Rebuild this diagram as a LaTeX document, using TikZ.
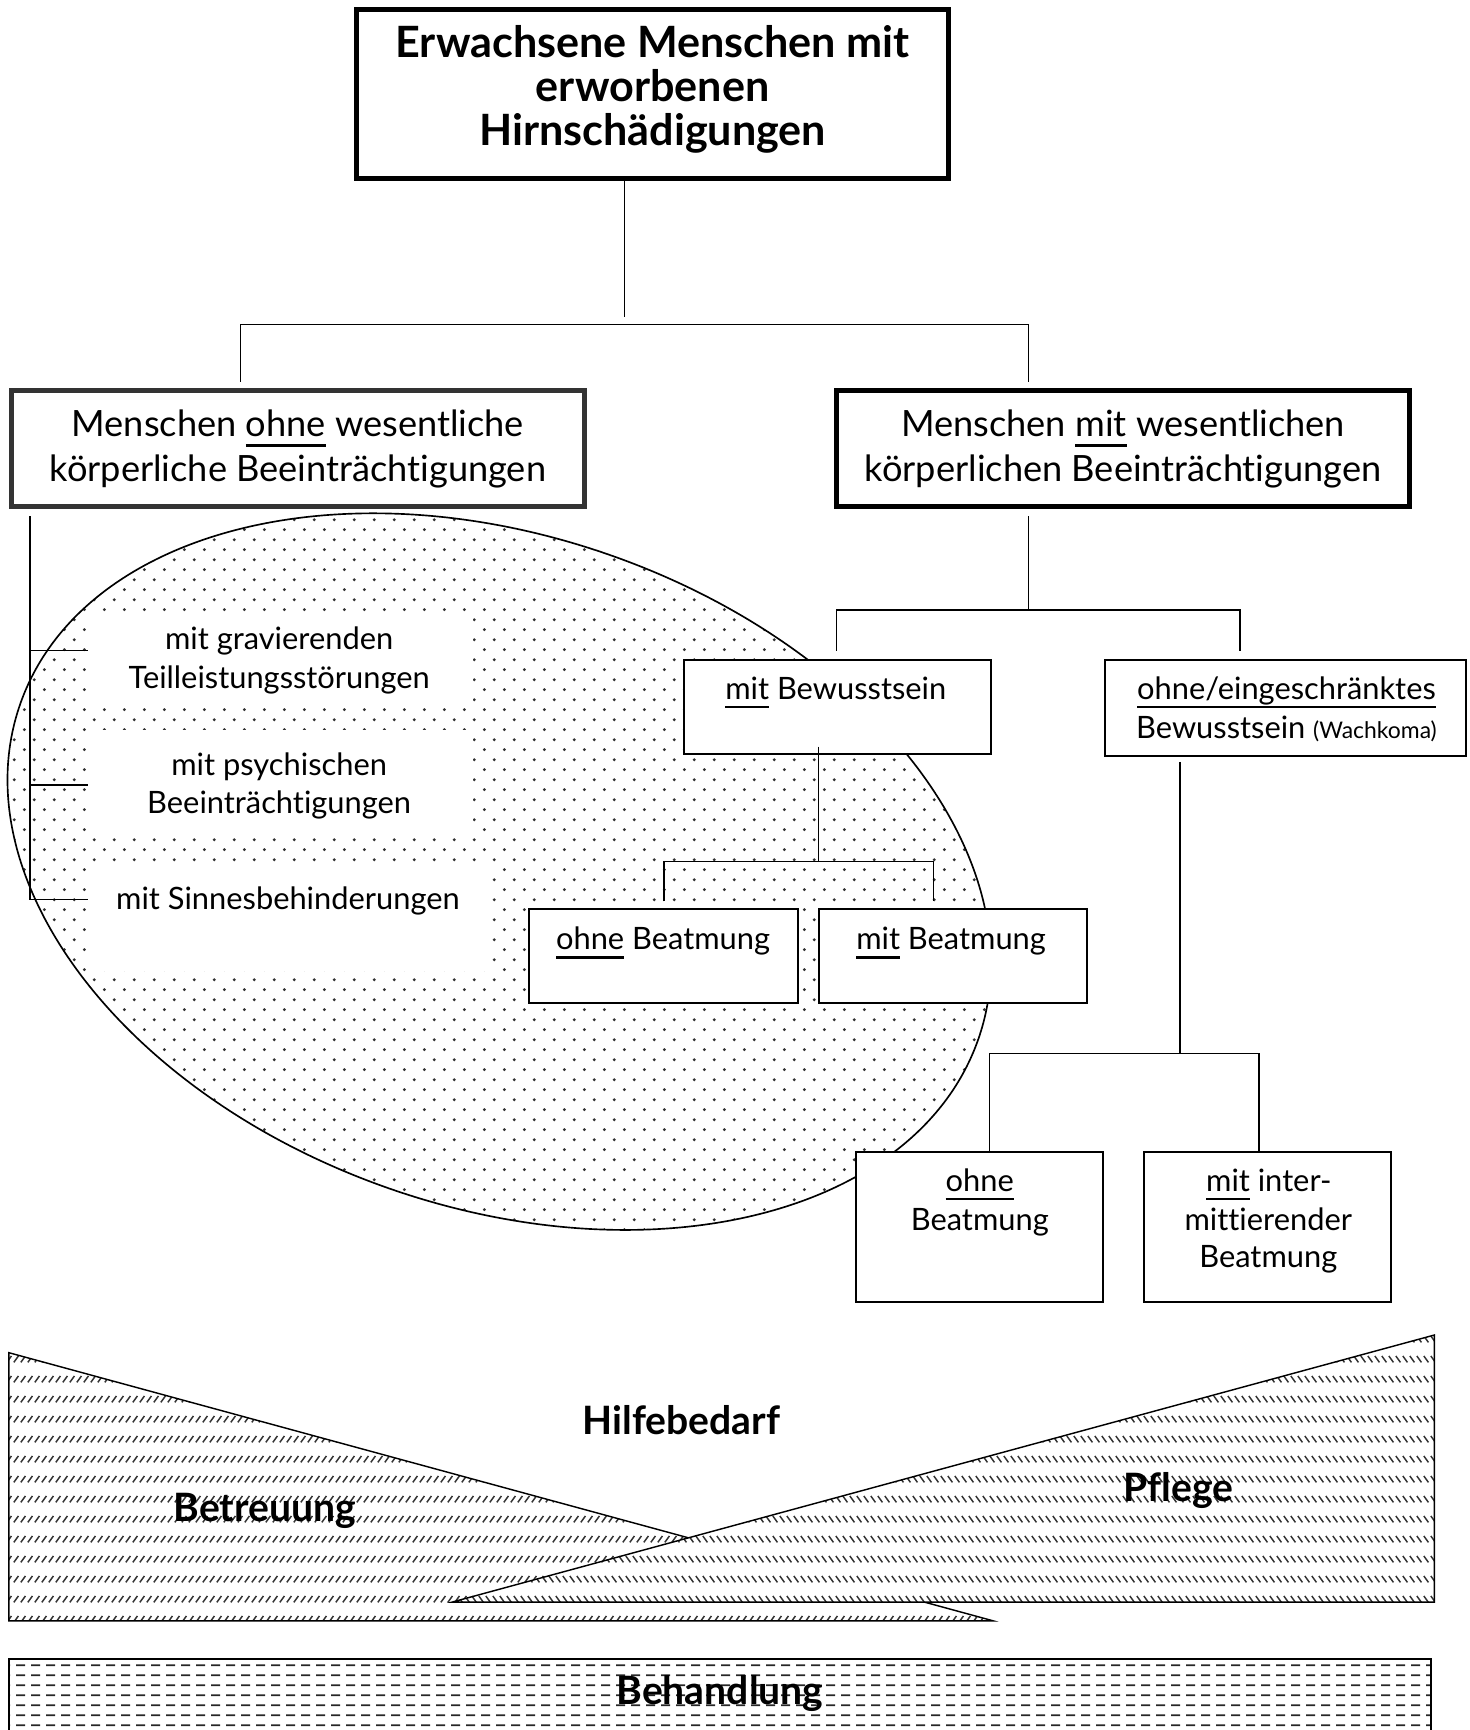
\documentclass[tikz,border=0pt]{standalone}
\usepackage{fontspec}
\setmainfont{Lato}[Ligatures={NoCommon,NoContextual}]
\usetikzlibrary{patterns}

\pgfdeclarepatternformonly{elldots}{\pgfpointorigin}{\pgfpoint{9pt}{9pt}}{\pgfpoint{9pt}{9pt}}{%
  \pgfpathcircle{\pgfpoint{2pt}{2pt}}{0.7pt}%
  \pgfpathcircle{\pgfpoint{6.5pt}{6.5pt}}{0.7pt}%
  \pgfusepath{fill}}
\pgfdeclarepatternformonly{hatchfwd}{\pgfpointorigin}{\pgfpoint{3pt}{9.2pt}}{\pgfpoint{3pt}{9.2pt}}{%
  \pgfsetlinewidth{0.7pt}%
  \pgfpathmoveto{\pgfpoint{0.4pt}{3.1pt}}\pgfpathlineto{\pgfpoint{2.6pt}{6.1pt}}%
  \pgfusepath{stroke}}
\pgfdeclarepatternformonly{hatchbwd}{\pgfpointorigin}{\pgfpoint{3pt}{9.2pt}}{\pgfpoint{3pt}{9.2pt}}{%
  \pgfsetlinewidth{0.7pt}%
  \pgfpathmoveto{\pgfpoint{0.4pt}{6.1pt}}\pgfpathlineto{\pgfpoint{2.6pt}{3.1pt}}%
  \pgfusepath{stroke}}
\pgfdeclarepatternformonly{dashrows}{\pgfpointorigin}{\pgfpoint{6.8pt}{4.4pt}}{\pgfpoint{6.8pt}{4.4pt}}{%
  \pgfsetlinewidth{0.75pt}%
  \pgfpathmoveto{\pgfpoint{0.5pt}{2.2pt}}\pgfpathlineto{\pgfpoint{4.9pt}{2.2pt}}%
  \pgfusepath{stroke}}

\newlength\mw
\newsavebox\ulbox
\newcommand\myul[1]{\sbox\ulbox{#1}\rlap{\rule[-0.28em]{\wd\ulbox}{0.085em}}\usebox\ulbox}
\newcommand\calcsize[3]{\settowidth\mw{\fontsize{10pt}{12pt}\selectfont #2}\pgfmathsetmacro#1{10*#3/\mw}}

\begin{document}
\calcsize\szMain{körperliche Beeinträchtigungen}{225}%
\calcsize\szSmall{Teilleistungsstörungen}{136.5}%
\calcsize\szTitle{\bfseries Erwachsene Menschen mit}{233}%
\calcsize\szBot{\bfseries Hilfebedarf}{89.5}%
\calcsize\szWach{(Wachkoma)}{56}%
\begin{tikzpicture}[x=0.5pt,y=-0.5pt,
  conn/.style={line width=0.65pt},
  bigbox/.style={draw, line width=2.25pt, fill=white, inner sep=0pt},
  smallbox/.style={draw, line width=0.9pt, fill=white, inner sep=0pt},
  tm/.style={anchor=base, inner sep=0pt, font=\fontsize{\szMain pt}{\szMain pt}\selectfont},
  ts/.style={anchor=base, inner sep=0pt, font=\fontsize{\szSmall pt}{\szSmall pt}\selectfont},
  tt/.style={anchor=base, inner sep=0pt, font=\fontsize{\szTitle pt}{\szTitle pt}\selectfont\bfseries},
  tb/.style={anchor=base, inner sep=0pt, font=\fontsize{\szBot pt}{\szBot pt}\selectfont\bfseries},
  ell/.style={rotate around={-19.3:(452.5,790)}},
  hatchline/.style={line width=0.65pt}]

\useasboundingbox (0,0) rectangle (1332,1568);
\clip (0,0) rectangle (1332,1568);

% dotted ellipse
\path[ell, pattern=elldots, pattern color=black!80] (452.5,790) ellipse [x radius=460, y radius=304];
\fill[white] (80,560) rectangle (428.6,639);
\fill[white] (80,661.5) rectangle (428.6,754);
\fill[white] (80,787) rectangle (444,880);
\draw[ell, line width=0.75pt] (452.5,790) ellipse [x radius=460, y radius=304];

% boxes
\node[bigbox, minimum width=268.25pt, minimum height=76.75pt] (top) at (591.5,85) {};
\node[bigbox, draw=black!80, minimum width=259.75pt, minimum height=52.25pt] (ohneK) at (270,406.5) {};
\node[bigbox, minimum width=259.75pt, minimum height=52.25pt] (mitK) at (1018,406.5) {};
\node[smallbox, minimum width=139.1pt, minimum height=42.6pt] (mitBw) at (759,640.5) {};
\node[smallbox, minimum width=163.6pt, minimum height=43.6pt] (ohneBw) at (1165.5,641.5) {};
\node[smallbox, minimum width=121.6pt, minimum height=42.6pt] (oBeat) at (601.5,866.5) {};
\node[smallbox, minimum width=121.6pt, minimum height=42.6pt] (mBeat) at (863.5,866.5) {};
\node[smallbox, minimum width=112.1pt, minimum height=68.1pt] (oBeat2) at (888,1112) {};
\node[smallbox, minimum width=112.1pt, minimum height=68.1pt] (mInter) at (1149,1112) {};

% connectors
\coordinate (t1) at (566,287);
\draw[conn] (top.south -| t1) -- (t1);
\coordinate (bL) at (218,294); \coordinate (bR) at (932,294);
\coordinate (dL) at (218,346); \coordinate (dR) at (932,346);
\draw[conn] (dL) -- (bL) -- (bR) -- (dR);

\coordinate (lv) at (27,468);
\coordinate (k1) at (79.5,589.6); \coordinate (k2) at (79.5,711.3); \coordinate (k3) at (79.5,815.5);
\draw[conn] (lv) |- (k3);
\draw[conn] (k1 -| lv) -- (k1);
\draw[conn] (k2 -| lv) -- (k2);

\coordinate (rv) at (932,468); \coordinate (rj) at (932,553);
\coordinate (rjL) at (758,553); \coordinate (rjR) at (1124,553);
\coordinate (rdL) at (758,590); \coordinate (rdR) at (1124,590);
\draw[conn] (rv) -- (rj);
\draw[conn] (rdL) -- (rjL) -- (rjR) -- (rdR);

\coordinate (mv) at (741.6,676.6); \coordinate (mj) at (741.6,781);
\coordinate (mjL) at (602,781); \coordinate (mjR) at (846,781);
\coordinate (mdL) at (602,817); \coordinate (mdR) at (846,817);
\draw[conn] (mv) -- (mj);
\draw[conn] (mdL) -- (mjL) -- (mjR) -- (mdR);

\coordinate (ov) at (1069.5,690.5); \coordinate (oj) at (1069.5,955);
\coordinate (ojL) at (897,955); \coordinate (ojR) at (1141,955);
\draw[conn] (ov) -- (oj);
\draw[conn] (oBeat2.north -| ojL) -- (ojL) -- (ojR) -- (mInter.north -| ojR);

% texts
\node[tt] (h1) at (591.5,52) {Erwachsene Menschen mit};
\node[tt] (h2) at (591.5,92) {erworbenen};
\node[tt] (h3) at (591.5,132) {Hirnschädigungen};

\node[tm] (a1) at (270,396) {Menschen \myul{ohne} wesentliche};
\node[tm] (a2) at (270,436) {körperliche Beeinträchtigungen};
\node[tm] (b1) at (1018,396) {Menschen \myul{mit} wesentlichen};
\node[tm] (b2) at (1018,436) {körperlichen Beeinträchtigungen};

\node[ts] (e1) at (253,589) {mit gravierenden};
\node[ts] (e2) at (253,624) {Teilleistungsstörungen};
\node[ts] (e3) at (253,703) {mit psychischen};
\node[ts] (e4) at (253,737.5) {Beeinträchtigungen};
\node[ts] (e5) at (261,824) {mit Sinnesbehinderungen};

\node[ts] (c1) at (757.5,634) {\myul{mit} Bewusstsein};
\node[ts] (c2) at (1166,634) {\myul{ohne/eingeschränktes}};
\node[ts] (c3) at (1166,669) {Bewusstsein {\fontsize{\szWach pt}{\szWach pt}\selectfont (Wachkoma)}};
\node[ts] (c4) at (601,861) {\myul{ohne} Beatmung};
\node[ts] (c5) at (862,861) {\myul{mit} Beatmung};
\node[ts] (c6) at (888,1080) {\myul{ohne}};
\node[ts] (c7) at (888,1115) {Beatmung};
\node[ts] (c8) at (1150,1080) {\myul{mit} inter-};
\node[ts] (c9) at (1149.5,1115) {mittierender};
\node[ts] (c10) at (1149.5,1149) {Beatmung};

% bottom: Betreuung / Pflege / Behandlung
\coordinate (bA) at (8,1226); \coordinate (bB) at (8,1469); \coordinate (bC) at (900,1469);
\draw[hatchline, pattern=hatchfwd, pattern color=black!80] (bA) -- (bB) -- (bC) -- cycle;
\coordinate (pA) at (1300,1210); \coordinate (pB) at (1300,1452); \coordinate (pC) at (410,1452);
\fill[white] (pA) -- (pB) -- (pC) -- cycle;
\draw[hatchline, pattern=hatchbwd, pattern color=black!80] (pA) -- (pB) -- (pC) -- cycle;
\coordinate (qA) at (8,1504); \coordinate (qB) at (1297,1600);
\draw[line width=0.9pt, pattern=dashrows, pattern color=black!85] (qA) rectangle (qB);

\node[tb] (l1) at (617.5,1300) {Hilfebedarf};
\node[tb] (l2) at (240,1379) {Betreuung};
\node[tb] (l3) at (1068,1361) {Pflege};
\node[tb] (l4) at (652.5,1545) {Behandlung};
\end{tikzpicture}
\end{document}
